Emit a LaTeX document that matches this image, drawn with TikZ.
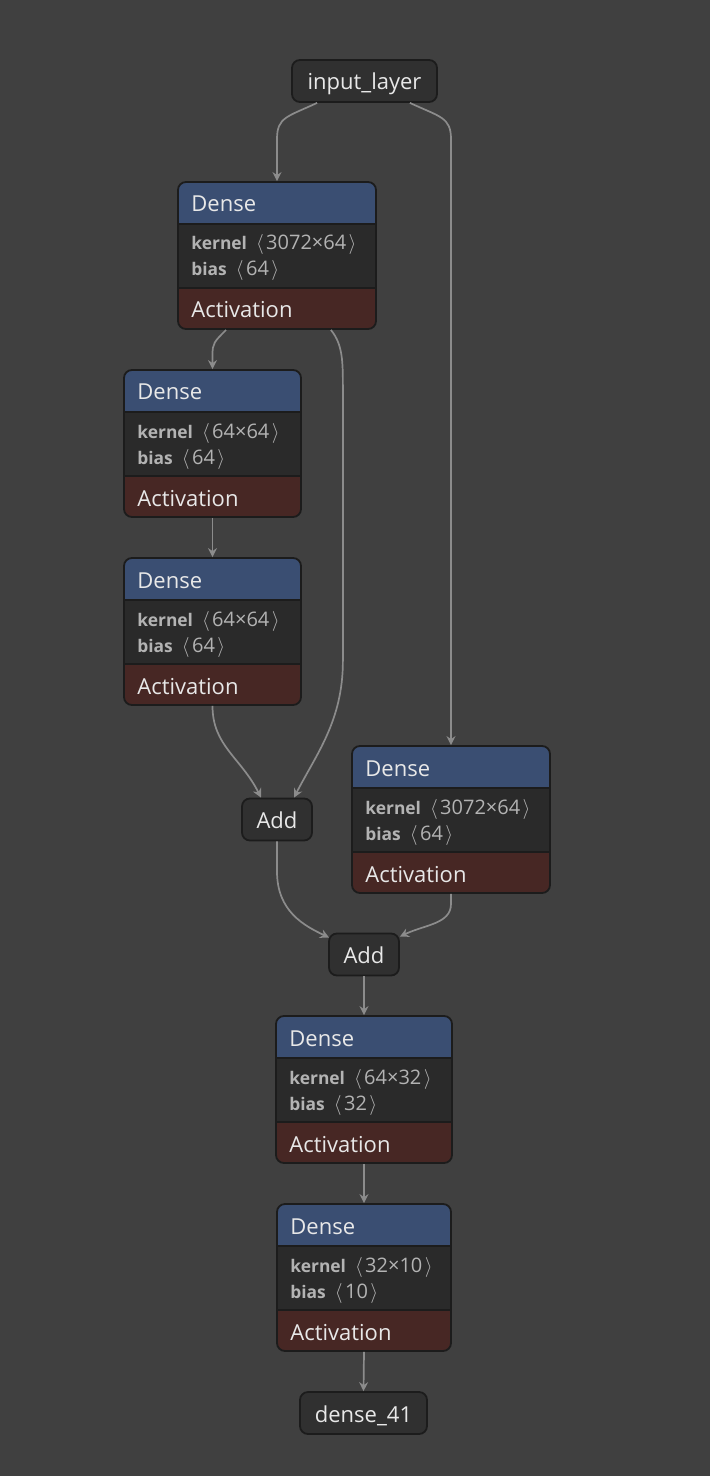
\documentclass[tikz,border=0pt]{standalone}
\usepackage{fontspec}
\setmainfont{Open Sans}
\usetikzlibrary{arrows.meta,calc}
\definecolor{bgc}{HTML}{404040}
\definecolor{hdrc}{HTML}{3A4E72}
\definecolor{bodyc}{HTML}{2A2A2A}
\definecolor{actc}{HTML}{472724}
\definecolor{linec}{HTML}{1C1C1C}
\definecolor{smallc}{HTML}{303030}
\definecolor{txtc}{HTML}{E8E8E8}
\definecolor{kerc}{HTML}{B3B3B3}
\definecolor{edgec}{HTML}{8C8C8C}
\tikzset{
  blk/.style={draw=linec, line width=0.9pt, rounded corners=4pt, inner sep=0pt},
  small/.style={draw=linec, line width=0.9pt, fill=smallc, rounded corners=4pt, inner sep=0pt,
     minimum height=21pt, text height=9pt, text depth=0pt, text=txtc, font=\fontsize{11}{13}\selectfont},
  hd/.style={anchor=base west, inner sep=0pt, text=txtc, font=\fontsize{11}{13}\selectfont},
  kn/.style={anchor=base west, inner sep=0pt, text=kerc, font=\fontsize{8.7}{10}\selectfont},
  edge/.style={draw=edgec, line width=0.85pt, -{Stealth[length=4.5pt,width=4.5pt,inset=1.5pt]}},
}
\newcommand\shp[1]{\hspace{4.5pt}{\fontsize{10}{12}\selectfont$\langle$\hspace{1.2pt}#1\hspace{1.2pt}$\rangle$}}
\newcommand\denseblock[6]{%
  \begin{scope}
    \clip[rounded corners=4pt] (#2,#3) rectangle ++(#4,147);
    \fill[hdrc] (#2,#3) rectangle ++(#4,42);
    \fill[bodyc] (#2,#3+42) rectangle ++(#4,64);
    \fill[actc] (#2,#3+106) rectangle ++(#4,41);
    \draw[linec, line width=1pt] (#2,#3+42) -- ++(#4,0);
    \draw[linec, line width=1pt] (#2,#3+106) -- ++(#4,0);
  \end{scope}
  \node[blk, minimum width={#4*0.5pt}, minimum height=73.5pt] (#1) at (#2+#4/2,#3+73.5) {};
  \node[hd] (#1-h) at (#2+13,#3+30) {Dense};
  \node[kn] (#1-k) at (#2+13,#3+68) {\textbf{kernel}\shp{#5}};
  \node[kn] (#1-b) at (#2+13,#3+94) {\textbf{bias}\shp{#6}};
  \node[hd] (#1-a) at (#2+13,#3+136) {Activation};
}
\begin{document}
\begin{tikzpicture}[x=0.5pt,y=-0.5pt]
\fill[bgc] (0,0) rectangle (710,1476);
\useasboundingbox (0,0) rectangle (710,1476);

\node[small, minimum width=72.5pt] (inp) at (364.5,81) {input\_layer};
\denseblock{d1}{178}{182}{198}{3072×64}{64}
\denseblock{d2}{124}{370}{177}{64×64}{64}
\denseblock{d3}{124}{558}{177}{64×64}{64}
\denseblock{d4}{352}{746}{198}{3072×64}{64}
\node[small, minimum width=35pt] (add1) at (277,819.5) {Add};
\node[small, minimum width=35pt] (add2) at (364,954.5) {Add};
\denseblock{d5}{276}{1016}{176}{64×32}{32}
\denseblock{d6}{277}{1204}{174}{32×10}{10}
\node[small, minimum width=63.5pt] (out) at (363.5,1413) {dense\_41};

% edges
\draw[edge] ($(inp.south west)+(26,0)$) .. controls +(-30,14) and +(0,-22) .. ($(d1.north)+(0,-42)$) -- (d1.north);
\draw[edge] ($(inp.south east)+(-28,0)$) .. controls +(30,14) and +(0,-22) .. ($(d4.north |- d1.north)+(0,-42)$) -- (d4.north);
\draw[edge] ($(d1.south west)+(49,0)$) .. controls +(-12,12) and +(0,-12) .. ($(d2.north)+(0,-14)$) -- (d2.north);
\draw[edge] ($(d1.south east)+(-46,0)$) .. controls +(12,15) and +(0,-30) .. ($(d1.south east)+(-34,61)$) -- ($(d1.south east)+(-34,331)$) .. controls +(0,60) and +(22,-43) .. ($(add1.north)+(17,0)$);
\draw[edge] (d2.south) -- (d3.north);
\draw[edge] (d3.south) .. controls +(0,40) and +(-20,-40) .. ($(add1.north)+(-16,0)$);
\draw[edge] (add1.south) -- ++(0,30) .. controls +(0,40) and +(-25,-12) .. ($(add2.north west)+(1,5)$);
\draw[edge] (d4.south) -- ++(0,10) .. controls +(0,20) and +(25,-12) .. ($(add2.north east)+(0,4)$);
\draw[edge] (add2.south) -- (d5.north);
\draw[edge] (d5.south) -- (d6.north);
\draw[edge] (d6.south) -- (out.north);
\end{tikzpicture}
\end{document}
